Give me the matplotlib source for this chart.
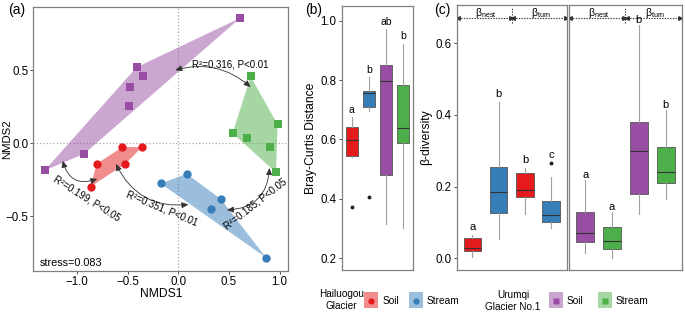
import matplotlib
matplotlib.use('Agg')
import matplotlib.pyplot as plt
from matplotlib.patches import Polygon, FancyArrowPatch, Rectangle
import numpy as np

plt.rcParams['font.family'] = ['Liberation Sans', 'DejaVu Sans']
plt.rcParams['mathtext.fontset'] = 'custom'
plt.rcParams['mathtext.rm'] = 'Liberation Sans'
plt.rcParams['mathtext.it'] = 'Liberation Sans:italic'

RED, BLUE, PURPLE, GREEN = '#E41A1C', '#377EB8', '#984EA3', '#4DAF4A'
EDGE = '#7f7f7f'

# (a) NMDS scores
hg_soil_x = [-0.553, -0.359, -0.806, -0.523, -0.865]
hg_soil_y = [-0.027, -0.027, -0.142, -0.142, -0.297]
hg_stream_x = [-0.174, 0.082, 0.418, 0.322, 0.865]
hg_stream_y = [-0.276, -0.210, -0.381, -0.452, -0.783]
ug_soil_x = [0.61, -0.41, -0.345, -0.48, -0.49, -0.93, -1.32]
ug_soil_y = [0.856, 0.52, 0.463, 0.384, 0.256, -0.073, -0.187]
ug_stream_x = [0.714, 0.98, 0.536, 0.674, 0.905, 0.964]
ug_stream_y = [0.457, 0.128, 0.068, 0.034, -0.025, -0.200]
adonis_labels = ['R²=0.316, P<0.01', 'R²=0.185, P<0.05',
                 'R²=0.351, P<0.01', 'R²=0.199, P<0.05']
stress = 0.083

# (b) Bray-Curtis distance
b_med = [0.597, 0.756, 0.797, 0.639]
b_q1 = [0.545, 0.708, 0.480, 0.589]
b_q3 = [0.642, 0.764, 0.851, 0.782]
b_lo = [0.540, 0.696, 0.314, 0.301]
b_hi = [0.675, 0.809, 0.971, 0.922]
b_out = [[0.374], [0.405], [], []]
b_letters = ['a', 'b', 'ab', 'b']
b_colors = [RED, BLUE, PURPLE, GREEN]

# (c) beta nestedness / turnover (soil, stream, soil, stream)
c_hg_med = [0.028, 0.184, 0.191, 0.121]
c_hg_q1 = [0.021, 0.126, 0.170, 0.100]
c_hg_q3 = [0.056, 0.256, 0.237, 0.161]
c_hg_lo = [0.003, 0.053, 0.124, 0.084]
c_hg_hi = [0.065, 0.437, 0.251, 0.226]
c_hg_out = [[], [], [], [0.267]]
c_hg_letters = ['a', 'b', 'b', 'c']
c_ug_med = [0.070, 0.049, 0.300, 0.240]
c_ug_q1 = [0.045, 0.025, 0.180, 0.209]
c_ug_q3 = [0.128, 0.086, 0.381, 0.310]
c_ug_lo = [0.014, 0.000, 0.124, 0.166]
c_ug_hi = [0.219, 0.130, 0.651, 0.414]
c_ug_out = [[], [], [], []]
c_ug_letters = ['a', 'a', 'b', 'b']

TICK_FS = 8.3
LAB_FS = 8.7


def hull(xs, ys):
    pts = sorted(zip(xs, ys))
    def cross(o, a, b):
        return (a[0]-o[0])*(b[1]-o[1]) - (a[1]-o[1])*(b[0]-o[0])
    lower, upper = [], []
    for p in pts:
        while len(lower) >= 2 and cross(lower[-2], lower[-1], p) <= 0:
            lower.pop()
        lower.append(p)
    for p in reversed(pts):
        while len(upper) >= 2 and cross(upper[-2], upper[-1], p) <= 0:
            upper.pop()
        upper.append(p)
    return lower[:-1] + upper[:-1]


def style_box_axes(ax):
    for s in ax.spines.values():
        s.set_color(EDGE)
        s.set_linewidth(0.9)
    ax.tick_params(labelsize=TICK_FS, length=2.5, width=0.6, color='#333333', pad=1.2)


def draw_boxes(ax, med, q1, q3, lo, hi, out, colors, letters, width, off, fs):
    stats = []
    for i in range(len(med)):
        stats.append(dict(med=med[i], q1=q1[i], q3=q3[i], whislo=lo[i],
                          whishi=hi[i], fliers=out[i]))
    bp = ax.bxp(stats, positions=range(1, len(med)+1), widths=width,
                patch_artist=True, showcaps=False,
                boxprops=dict(linewidth=0.6, edgecolor='#555555'),
                medianprops=dict(color='#333333', linewidth=0.8),
                whiskerprops=dict(color='#a0a0a0', linewidth=0.8),
                flierprops=dict(marker='o', markersize=1.8, markerfacecolor='#222222',
                                markeredgecolor='#222222'))
    for patch, c in zip(bp['boxes'], colors):
        patch.set_facecolor(c)
    for i, l in enumerate(letters):
        top = max([hi[i]] + list(out[i]))
        ax.text(i+1, top + off, l, ha='center', va='center', fontsize=fs)


fig = plt.figure(figsize=(6.85, 3.13), dpi=100)

# ---------------- (a) ----------------
ax = fig.add_axes([0.0486, 0.1351, 0.3723, 0.8416])
for xs, ys, c, m in [(ug_soil_x, ug_soil_y, PURPLE, 's'),
                     (ug_stream_x, ug_stream_y, GREEN, 's'),
                     (hg_soil_x, hg_soil_y, RED, 'o'),
                     (hg_stream_x, hg_stream_y, BLUE, 'o')]:
    ax.add_patch(Polygon(hull(xs, ys), closed=True, facecolor=c, alpha=0.5,
                         edgecolor='none', zorder=1))
    ax.scatter(xs, ys, s=36, marker=m, color=c, zorder=3, linewidths=0)
ax.axhline(0, color='#aaaaaa', ls=':', lw=0.9, zorder=0)
ax.axvline(0, color='#aaaaaa', ls=':', lw=0.9, zorder=0)

arrows = [((-0.03, 0.50), (0.714, 0.384), -0.27),
          ((0.90, -0.17), (0.48, -0.457), -0.45),
          ((-0.615, -0.142), (0.10, -0.42), 0.35),
          ((-1.14, -0.12), (-0.80, -0.244), 0.55)]
for a, b, rad in arrows:
    ax.add_patch(FancyArrowPatch(a, b, connectionstyle='arc3,rad=%s' % rad,
                                 arrowstyle='<|-|>,head_length=0.4,head_width=0.18',
                                 mutation_scale=10, lw=0.6, color='#333333',
                                 shrinkA=0, shrinkB=0, zorder=4))
label_pos = [(0.51, 0.536, 0), (0.764, -0.416, 38),
             (-0.158, -0.45, -22.5), (-0.904, -0.377, -32)]
for (x, y, r), t in zip(label_pos, adonis_labels):
    ax.text(x, y, t, rotation=r, ha='center', va='center', fontsize=7,
            rotation_mode='anchor', zorder=5)
ax.text(-1.372, -0.818, 'stress=%.3f' % stress, ha='left', va='center', fontsize=7.8)

ax.set_xlim(-1.431, 1.086)
ax.set_ylim(-0.873, 0.93)
ax.set_xticks([-1.0, -0.5, 0.0, 0.5, 1.0])
ax.set_yticks([-0.5, 0.0, 0.5])
style_box_axes(ax)
ax.set_xlabel('NMDS1', fontsize=LAB_FS)
ax.set_ylabel('NMDS2', fontsize=8.2)
ax.xaxis.set_label_coords(0.5, -0.065)
ax.yaxis.set_label_coords(-0.083, 0.5)

# ---------------- (b) ----------------
axb = fig.add_axes([0.4988, 0.1374, 0.1041, 0.8444])
draw_boxes(axb, b_med, b_q1, b_q3, b_lo, b_hi, b_out, b_colors, b_letters,
           0.72, 0.025, 7.5)
axb.set_xlim(0.4, 4.6)
axb.set_ylim(0.1606, 1.0505)
axb.set_xticks([])
axb.set_yticks([0.2, 0.4, 0.6, 0.8, 1.0])
style_box_axes(axb)
axb.set_ylabel('Bray-Curtis Distance', fontsize=LAB_FS)
axb.yaxis.set_label_coords(-0.35, 0.5)

# ---------------- (c) ----------------
axc1 = fig.add_axes([0.6667, 0.1374, 0.161, 0.8466])
axc2 = fig.add_axes([0.8307, 0.1374, 0.1645, 0.8466])
draw_boxes(axc1, c_hg_med, c_hg_q1, c_hg_q3, c_hg_lo, c_hg_hi, c_hg_out,
           [RED, BLUE, RED, BLUE], c_hg_letters, 0.67, 0.022, 8)
draw_boxes(axc2, c_ug_med, c_ug_q1, c_ug_q3, c_ug_lo, c_ug_hi, c_ug_out,
           [PURPLE, GREEN, PURPLE, GREEN], c_ug_letters, 0.67, 0.014, 8)
for axc in (axc1, axc2):
    axc.set_xlim(0.4, 4.6)
    axc.set_ylim(-0.0327, 0.707)
    axc.set_xticks([])
    axc.set_yticks([0.0, 0.2, 0.4, 0.6])
    style_box_axes(axc)
    yl = 0.67
    axc.plot([0.45, 2.45], [yl, yl], ls=(0, (1.2, 1.2)), color='#333333', lw=0.8)
    axc.plot([2.55, 4.55], [yl, yl], ls=(0, (1.2, 1.2)), color='#333333', lw=0.8)
    axc.plot([0.45, 2.55], [yl, yl], ls='none', marker='<', ms=2.6, color='#333333')
    axc.plot([2.45, 4.55], [yl, yl], ls='none', marker='>', ms=2.6, color='#333333')
    axc.plot([2.5, 2.5], [0.656, 0.698], ls=(0, (1.2, 1.2)), color='#333333', lw=0.8)
    axc.text(1.5, 0.686, r'$\mathrm{\beta_{nest}}$', ha='center', va='center', fontsize=7.5)
    axc.text(3.6, 0.686, r'$\mathrm{\beta_{turn}}$', ha='center', va='center', fontsize=7.5)
axc2.tick_params(labelleft=False, left=False)
axc1.set_ylabel('β-diversity', fontsize=LAB_FS)
axc1.yaxis.set_label_coords(-0.227, 0.5)

# panel tags
fig.text(17/685, 1-10/313, '(a)', ha='center', va='center', fontsize=10)
fig.text(314/685, 1-10/313, '(b)', ha='center', va='center', fontsize=10)
fig.text(442/685, 1-10/313, '(c)', ha='center', va='center', fontsize=10)

# ---------------- legend ----------------
lg = fig.add_axes([0, 0, 1, 1], zorder=-1)
lg.set_xlim(0, 685)
lg.set_ylim(313, 0)
lg.axis('off')
lg.text(341.7, 300, 'Hailuogou\nGlacier', ha='center', va='center', fontsize=7.2,
        linespacing=1.15)
lg.text(513, 301, 'Urumqi\nGlacier No.1', ha='center', va='center', fontsize=7.2,
        linespacing=1.15)
keys = [(371.5, RED, 'o', 'Soil'), (416, BLUE, 'o', 'Stream'),
        (556, PURPLE, 's', 'Soil'), (605, GREEN, 's', 'Stream')]
for x, c, m, t in keys:
    lg.add_patch(Rectangle((x-7, 292), 14, 16, facecolor=c, alpha=0.5, edgecolor='none'))
    lg.plot([x], [300.5], marker=m, ms=4.5, color=c, mec='none')
    lg.text(x+11, 301, t, ha='left', va='center', fontsize=7.3)

fig.savefig('out.png', dpi=100)
